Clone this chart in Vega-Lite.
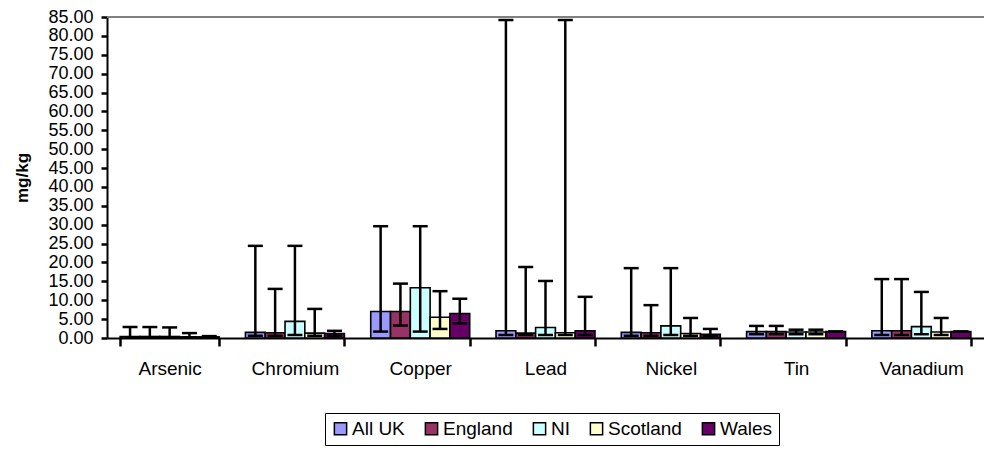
{
  "$schema": "https://vega.github.io/schema/vega-lite/v6.json",
  "autosize": "none",
  "width": 877,
  "height": 321,
  "padding": {"left": 107, "top": 17, "right": 0, "bottom": 111},
  "background": "white",
  "config": {
    "view": {"stroke": null},
    "font": "Liberation Sans",
    "axis": {"labelFont": "Liberation Sans", "titleFont": "Liberation Sans", "labelColor": "black", "titleColor": "black"},
    "axisY": {
      "titleFontSize": 17, "titleFontWeight": "bold", "titlePadding": 16,
      "labelFontSize": 18, "labelPadding": 8, "labelOverlap": false, "labelFlush": false, "grid": false,
      "domainColor": "black", "domainWidth": 2, "tickColor": "black", "tickWidth": 2.5, "tickSize": 6
    }
  },
  "data": {
    "values": [
      {"element": "Arsenic", "region": "All UK", "mean": 0.4, "min": 0.2, "max": 2.9},
      {"element": "Arsenic", "region": "England", "mean": 0.4, "min": 0.2, "max": 2.9},
      {"element": "Arsenic", "region": "NI", "mean": 0.4, "min": 0.2, "max": 2.8},
      {"element": "Arsenic", "region": "Scotland", "mean": 0.3, "min": 0.2, "max": 1.3},
      {"element": "Arsenic", "region": "Wales", "mean": 0.3, "min": 0.2, "max": 0.5},
      {"element": "Chromium", "region": "All UK", "mean": 1.5, "min": 0.6, "max": 24.4},
      {"element": "Chromium", "region": "England", "mean": 1.4, "min": 0.6, "max": 13.0},
      {"element": "Chromium", "region": "NI", "mean": 4.4, "min": 0.8, "max": 24.4},
      {"element": "Chromium", "region": "Scotland", "mean": 1.3, "min": 0.6, "max": 7.7},
      {"element": "Chromium", "region": "Wales", "mean": 1.2, "min": 0.6, "max": 1.9},
      {"element": "Copper", "region": "All UK", "mean": 7.0, "min": 1.7, "max": 29.6},
      {"element": "Copper", "region": "England", "mean": 7.0, "min": 3.3, "max": 14.4},
      {"element": "Copper", "region": "NI", "mean": 13.3, "min": 1.7, "max": 29.6},
      {"element": "Copper", "region": "Scotland", "mean": 5.5, "min": 2.4, "max": 12.4},
      {"element": "Copper", "region": "Wales", "mean": 6.5, "min": 3.9, "max": 10.4},
      {"element": "Lead", "region": "All UK", "mean": 1.9, "min": 0.8, "max": 84.2},
      {"element": "Lead", "region": "England", "mean": 1.3, "min": 0.8, "max": 18.8},
      {"element": "Lead", "region": "NI", "mean": 2.8, "min": 0.8, "max": 15.1},
      {"element": "Lead", "region": "Scotland", "mean": 1.4, "min": 0.8, "max": 84.2},
      {"element": "Lead", "region": "Wales", "mean": 1.9, "min": 0.8, "max": 10.9},
      {"element": "Nickel", "region": "All UK", "mean": 1.5, "min": 0.6, "max": 18.5},
      {"element": "Nickel", "region": "England", "mean": 1.4, "min": 0.6, "max": 8.7},
      {"element": "Nickel", "region": "NI", "mean": 3.2, "min": 0.8, "max": 18.5},
      {"element": "Nickel", "region": "Scotland", "mean": 1.2, "min": 0.6, "max": 5.3},
      {"element": "Nickel", "region": "Wales", "mean": 1.0, "min": 0.5, "max": 2.4},
      {"element": "Tin", "region": "All UK", "mean": 1.7, "min": 1.0, "max": 3.2},
      {"element": "Tin", "region": "England", "mean": 1.7, "min": 1.0, "max": 3.2},
      {"element": "Tin", "region": "NI", "mean": 1.6, "min": 1.0, "max": 2.2},
      {"element": "Tin", "region": "Scotland", "mean": 1.6, "min": 1.0, "max": 2.2},
      {"element": "Tin", "region": "Wales", "mean": 1.7, "min": 1.7, "max": 1.7},
      {"element": "Vanadium", "region": "All UK", "mean": 1.9, "min": 0.8, "max": 15.6},
      {"element": "Vanadium", "region": "England", "mean": 1.9, "min": 0.8, "max": 15.6},
      {"element": "Vanadium", "region": "NI", "mean": 3.0, "min": 1.0, "max": 12.2},
      {"element": "Vanadium", "region": "Scotland", "mean": 1.6, "min": 0.8, "max": 5.3},
      {"element": "Vanadium", "region": "Wales", "mean": 1.7, "min": 1.7, "max": 1.7}
    ]
  },
  "encoding": {
    "x": {
      "field": "element", "type": "nominal", "sort": null,
      "scale": {"paddingInner": 0.21, "paddingOuter": 0.105},
      "axis": {
        "title": null, "labelAngle": 0, "labelFontSize": 19, "labelPadding": 13,
        "domainColor": "black", "domainWidth": 2, "tickColor": "black", "tickWidth": 2.5,
        "tickSize": 8, "tickBand": "extent"
      }
    },
    "xOffset": {"field": "region", "type": "nominal", "sort": ["All UK", "England", "NI", "Scotland", "Wales"], "scale": {"paddingInner": 0, "paddingOuter": 0}}
  },
  "layer": [
    {
      "mark": {"type": "bar", "stroke": "black", "strokeWidth": 1.6},
      "encoding": {
        "y": {
          "field": "mean", "type": "quantitative", "title": "mg/kg",
          "scale": {"domain": [0, 85], "nice": false},
          "axis": {"title": "mg/kg", "format": ".2f", "values": [0,5,10,15,20,25,30,35,40,45,50,55,60,65,70,75,80,85], "labelOverlap": false}
        },
        "fill": {
          "field": "region", "type": "nominal",
          "scale": {"domain": ["All UK", "England", "NI", "Scotland", "Wales"], "range": ["#9999FF", "#993366", "#CCFFFF", "#FFFFCC", "#660066"]},
          "legend": {
            "title": null, "orient": "none", "legendX": 218, "legendY": 396, "direction": "horizontal",
            "strokeColor": "black", "padding": 6, "labelFontSize": 19, "labelFont": "Liberation Sans", "labelColor": "black",
            "symbolType": "square", "symbolSize": 150, "symbolStrokeColor": "black", "symbolStrokeWidth": 1.5,
            "symbolOpacity": 1, "labelOffset": 2, "columnPadding": 17
          }
        }
      }
    },
    {
      "mark": {"type": "rule", "color": "black", "strokeWidth": 2.5},
      "encoding": {
        "y": {"field": "min", "type": "quantitative", "title": "mg/kg",
          "axis": {"title": "mg/kg", "format": ".2f", "values": [0,5,10,15,20,25,30,35,40,45,50,55,60,65,70,75,80,85], "labelOverlap": false}},
        "y2": {"field": "max"}
      }
    },
    {
      "mark": {"type": "tick", "orient": "horizontal", "color": "black", "size": 15, "thickness": 2.5, "opacity": 1},
      "encoding": {"y": {"field": "max", "type": "quantitative", "title": "mg/kg",
          "axis": {"title": "mg/kg", "format": ".2f", "values": [0,5,10,15,20,25,30,35,40,45,50,55,60,65,70,75,80,85], "labelOverlap": false}}}
    },
    {
      "mark": {"type": "tick", "orient": "horizontal", "color": "black", "size": 15, "thickness": 2.5, "opacity": 1},
      "encoding": {"y": {"field": "min", "type": "quantitative", "title": "mg/kg",
          "axis": {"title": "mg/kg", "format": ".2f", "values": [0,5,10,15,20,25,30,35,40,45,50,55,60,65,70,75,80,85], "labelOverlap": false}}}
    },
    {
      "mark": {"type": "rule", "color": "#808080", "strokeWidth": 2},
      "encoding": {"y": {"datum": 85, "type": "quantitative", "title": "mg/kg",
          "axis": {"title": "mg/kg", "format": ".2f", "values": [0,5,10,15,20,25,30,35,40,45,50,55,60,65,70,75,80,85], "labelOverlap": false}},
        "x": {"value": 0}, "x2": {"value": 877}, "xOffset": null}
    }
  ]
}
